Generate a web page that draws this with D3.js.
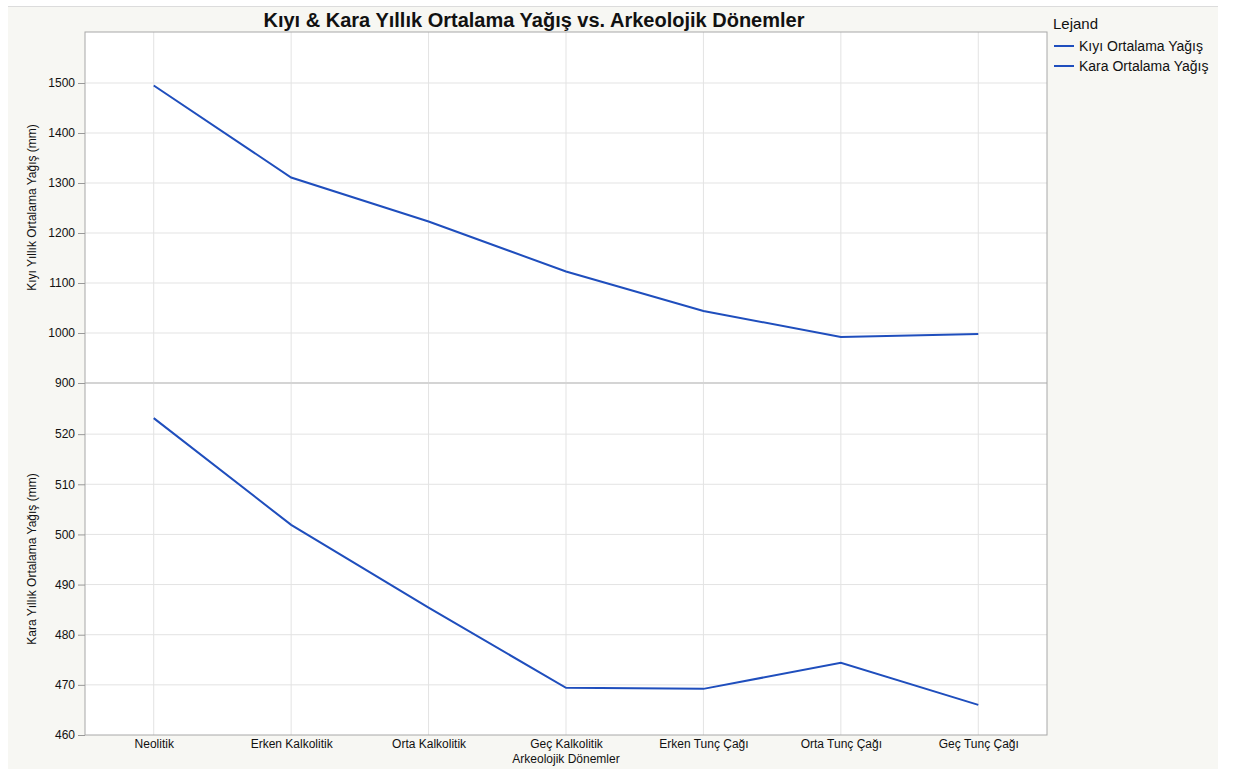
<!DOCTYPE html>
<html>
<head>
<meta charset="utf-8">
<script src="https://cdn.jsdelivr.net/npm/d3@7"></script>
<style>
  body { margin: 0; background: #fff; }
  svg text { font-family: "Liberation Sans", Arial, sans-serif; fill: #111; }
</style>
</head>
<body>
<div id="chart"></div>
<script>
// data
const periods = ["Neolitik", "Erken Kalkolitik", "Orta Kalkolitik", "Geç Kalkolitik", "Erken Tunç Çağı", "Orta Tunç Çağı", "Geç Tunç Çağı"];
const coastRain = [1495, 1311, 1223, 1123, 1044, 992, 998];
const inlandRain = [523.2, 501.9, 485.4, 469.4, 469.2, 474.4, 466.0];
const coastTicks = [900, 1000, 1100, 1200, 1300, 1400, 1500];
const inlandTicks = [460, 470, 480, 490, 500, 510, 520];
const seriesNames = ["Kıyı Ortalama Yağış", "Kara Ortalama Yağış"];

const width = 1240;
const height = 769;
const left = 85, right = 1047;
const top1 = 32, mid = 383, bottom2 = 735;
const lineColor = "#1f4ebd";

let svg = d3.select("#chart")
    .append("svg")
    .attr("width", width)
    .attr("height", height);

//page background
svg.append("rect")
    .attr("x", 8).attr("y", 6)
    .attr("width", 1210).attr("height", height - 6)
    .attr("fill", "#f7f7f3");
svg.append("line")
    .attr("x1", 8).attr("x2", 1218)
    .attr("y1", 6.5).attr("y2", 6.5)
    .attr("stroke", "#dcdcdc");

//scales
let xScale = d3.scalePoint()
    .domain(periods)
    .range([left, right])
    .padding(0.5);
let yTop = d3.scaleLinear()
    .domain([900, 1602])
    .range([mid, top1]);
let yBottom = d3.scaleLinear()
    .domain([460, 530.2])
    .range([bottom2, mid]);

//plot background
svg.append("rect")
    .attr("x", left).attr("y", top1)
    .attr("width", right - left).attr("height", bottom2 - top1)
    .attr("fill", "#fff");

//gridlines
const grid = svg.append("g").attr("stroke", "#e3e3e3").attr("stroke-width", 1);
grid.selectAll(".vg")
    .data(periods)
    .enter().append("line")
    .attr("x1", d => xScale(d)).attr("x2", d => xScale(d))
    .attr("y1", top1).attr("y2", bottom2);
grid.selectAll(".hg1")
    .data(coastTicks.filter(d => d > 900))
    .enter().append("line")
    .attr("x1", left).attr("x2", right)
    .attr("y1", d => yTop(d)).attr("y2", d => yTop(d));
grid.selectAll(".hg2")
    .data(inlandTicks.filter(d => d > 460))
    .enter().append("line")
    .attr("x1", left).attr("x2", right)
    .attr("y1", d => yBottom(d)).attr("y2", d => yBottom(d));

//panel divider
svg.append("line")
    .attr("x1", left).attr("x2", right)
    .attr("y1", mid).attr("y2", mid)
    .attr("stroke", "#d4d4d4").attr("stroke-width", 2);

//frame
svg.append("rect")
    .attr("x", left).attr("y", top1)
    .attr("width", right - left).attr("height", bottom2 - top1)
    .attr("fill", "none")
    .attr("stroke", "#a8a8a8");

//axes
const styleAxis = g => {
    g.select(".domain").remove();
    g.selectAll(".tick line").attr("stroke", "#999");
    g.selectAll(".tick text").attr("font-size", 12).attr("fill", "#111");
};
svg.append("g")
    .attr("transform", "translate(" + left + ",0)")
    .call(d3.axisLeft(yTop).tickValues(coastTicks).tickFormat(d3.format("d")).tickSize(7).tickPadding(3))
    .call(styleAxis);
svg.append("g")
    .attr("transform", "translate(" + left + ",0)")
    .call(d3.axisLeft(yBottom).tickValues(inlandTicks).tickFormat(d3.format("d")).tickSize(7).tickPadding(3))
    .call(styleAxis);
svg.append("g")
    .attr("transform", "translate(0," + bottom2 + ")")
    .call(d3.axisBottom(xScale).tickSize(0).tickPadding(4))
    .call(styleAxis);

//lines
const lineTop = d3.line()
    .x((d, i) => xScale(periods[i]))
    .y(d => yTop(d));
const lineBottom = d3.line()
    .x((d, i) => xScale(periods[i]))
    .y(d => yBottom(d));
svg.append("path")
    .datum(coastRain)
    .attr("d", lineTop)
    .attr("fill", "none")
    .attr("stroke", lineColor)
    .attr("stroke-width", 2);
svg.append("path")
    .datum(inlandRain)
    .attr("d", lineBottom)
    .attr("fill", "none")
    .attr("stroke", lineColor)
    .attr("stroke-width", 2);

//title
svg.append("text")
    .attr("x", 534)
    .attr("y", 27)
    .attr("text-anchor", "middle")
    .attr("font-size", 20)
    .attr("font-weight", "bold")
    .text("Kıyı & Kara Yıllık Ortalama Yağış vs. Arkeolojik Dönemler");

//axis titles
svg.append("text")
    .attr("x", (left + right) / 2)
    .attr("y", 763)
    .attr("text-anchor", "middle")
    .attr("font-size", 12)
    .text("Arkeolojik Dönemler");
svg.append("text")
    .attr("transform", "translate(36," + (top1 + mid) / 2 + ") rotate(-90)")
    .attr("text-anchor", "middle")
    .attr("font-size", 12)
    .text("Kıyı Yıllık Ortalama Yağış (mm)");
svg.append("text")
    .attr("transform", "translate(36," + (mid + bottom2) / 2 + ") rotate(-90)")
    .attr("text-anchor", "middle")
    .attr("font-size", 12)
    .text("Kara Yıllık Ortalama Yağış (mm)");

//legend
svg.append("text")
    .attr("x", 1053).attr("y", 29)
    .attr("font-size", 15)
    .text("Lejand");
let legend = svg.selectAll(".legend")
    .data(seriesNames)
    .enter().append("g")
    .attr("transform", (d, i) => "translate(1054," + (46 + i * 20) + ")");
legend.append("line")
    .attr("x1", 0).attr("x2", 20)
    .attr("stroke", lineColor)
    .attr("stroke-width", 2);
legend.append("text")
    .attr("x", 25).attr("y", 5)
    .attr("font-size", 14)
    .text(d => d);
</script>
</body>
</html>
